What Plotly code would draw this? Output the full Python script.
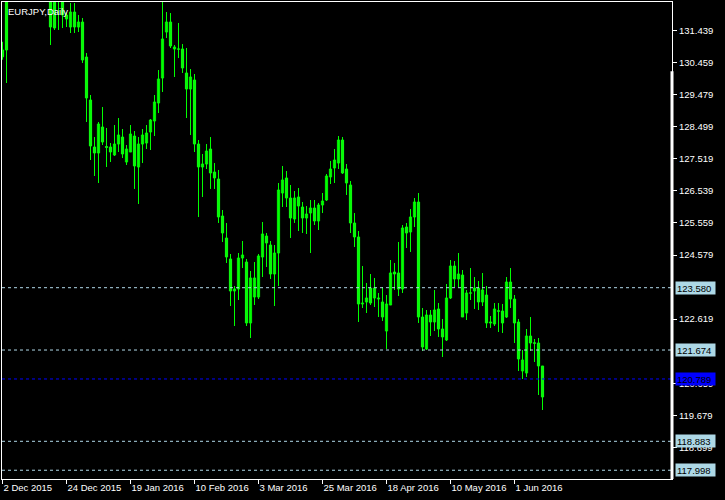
import plotly.graph_objects as go

symbol_label = "EURJPY,Daily"

opens = [130.85, 133.90, 133.85, 133.55, 133.30, 133.95, 134.55, 134.20, 133.65, 133.20,
         132.95, 133.35, 132.65, 132.60, 132.45, 132.40, 131.919, 131.552, 132.011, 131.552,
         131.705, 130.635, 129.320, 127.883, 127.699, 128.494, 127.895, 127.883, 127.638, 127.974,
         128.188, 127.424, 127.730, 128.219, 127.271, 127.974, 128.005, 128.341, 128.678, 129.228,
         129.993, 131.399, 131.705, 130.880, 130.870, 130.880, 130.146, 129.656, 129.932, 127.974,
         127.271, 127.363, 127.821, 127.118, 126.904, 125.772, 125.100, 124.458, 123.479, 123.540,
         124.488, 124.366, 122.501, 123.296, 123.296, 124.519, 125.161, 124.886, 123.999, 124.641,
         126.476, 126.935, 126.323, 125.681, 126.354, 126.048, 125.711, 125.864, 126.017, 125.620,
         126.109, 126.262, 126.966, 127.241, 127.393, 128.097, 127.210, 126.721, 125.559, 125.131,
         123.082, 123.143, 123.571, 123.265, 123.234, 123.143, 122.256, 123.051, 124.060, 124.030,
         123.540, 125.436, 125.283, 125.742, 126.201, 122.684, 121.706, 122.745, 122.531, 122.929,
         122.317, 121.981, 123.265, 124.244, 123.846, 123.968, 122.806, 123.410, 123.479, 123.571,
         123.143, 123.357, 122.501, 122.470, 122.875, 122.867, 122.684, 123.754, 123.234, 122.531,
         121.033, 120.972, 122.103, 121.895, 121.889, 121.186]
highs = [131.10, 134.00, 134.25, 133.95, 134.10, 134.85, 134.95, 134.55, 133.90, 133.50,
         133.60, 133.55, 132.90, 132.80, 132.70, 132.50, 132.011, 132.286, 132.286, 131.919,
         131.828, 130.757, 129.473, 128.188, 128.647, 129.106, 128.464, 128.005, 128.555, 128.769,
         128.433, 127.944, 128.555, 128.372, 128.188, 128.433, 128.555, 128.739, 129.473, 130.237,
         132.450, 132.011, 131.980, 131.002, 131.675, 131.032, 130.910, 130.268, 130.115, 128.097,
         127.669, 127.974, 128.188, 127.393, 127.180, 125.956, 125.559, 124.611, 123.632, 124.641,
         125.008, 124.458, 124.091, 124.366, 124.611, 125.589, 125.253, 125.008, 124.886, 126.782,
         127.302, 127.149, 126.721, 126.537, 126.629, 126.201, 126.078, 126.262, 126.262, 126.170,
         126.476, 127.057, 127.455, 127.821, 128.219, 128.188, 127.363, 126.843, 125.864, 125.314,
         124.244, 123.724, 123.999, 123.877, 123.418, 123.601, 123.357, 124.427, 124.336, 124.978,
         125.497, 125.559, 125.987, 126.323, 126.476, 122.959, 122.898, 122.898, 123.510, 123.112,
         122.623, 123.693, 124.427, 124.396, 124.641, 124.121, 123.510, 124.182, 123.907, 123.785,
         124.030, 123.632, 122.715, 123.112, 123.112, 123.082, 123.907, 124.182, 123.357, 122.623,
         121.675, 122.317, 122.684, 122.011, 122.042, 121.186]
lows = [130.55, 129.840, 133.05, 132.95, 132.80, 133.60, 133.85, 133.40, 132.95, 132.60,
        132.70, 132.45, 131.002, 131.461, 131.461, 131.522, 131.552, 131.369, 131.369, 131.399,
        130.451, 128.647, 127.485, 126.996, 126.782, 127.944, 127.271, 127.424, 127.608, 127.730,
        127.546, 127.332, 127.730, 126.599, 126.140, 127.393, 127.821, 127.791, 128.219, 128.922,
        129.565, 131.216, 130.910, 130.023, 130.604, 130.146, 128.769, 128.250, 127.730, 125.742,
        126.354, 127.210, 126.599, 126.599, 125.559, 124.978, 124.336, 123.020, 122.409, 123.204,
        124.182, 122.409, 122.042, 123.051, 123.234, 123.907, 124.213, 123.846, 123.020, 123.632,
        126.048, 126.048, 125.100, 125.559, 125.314, 125.253, 125.222, 124.641, 125.497, 125.344,
        125.864, 126.231, 126.751, 126.782, 127.210, 127.057, 126.415, 125.253, 124.825, 122.531,
        122.959, 122.806, 123.051, 122.990, 122.684, 122.562, 121.706, 123.051, 123.510, 123.326,
        123.418, 124.794, 124.672, 125.436, 122.501, 121.645, 121.675, 122.103, 122.256, 122.073,
        121.461, 121.950, 123.234, 123.601, 123.601, 122.684, 122.592, 123.204, 122.929, 122.898,
        123.020, 122.348, 122.348, 122.409, 122.225, 122.195, 122.654, 122.959, 121.889, 121.033,
        120.788, 120.850, 121.645, 121.309, 120.299, 119.840]
closes = [130.64, 130.849, 133.55, 133.30, 133.95, 134.55, 134.20, 133.65, 133.20, 132.95,
          133.35, 132.70, 131.552, 131.522, 132.40, 131.919, 131.797, 132.011, 131.552, 131.705,
          130.543, 129.381, 127.913, 127.699, 128.586, 128.035, 127.870, 127.730, 127.974, 128.250,
          127.669, 127.821, 128.280, 127.302, 127.974, 128.250, 128.311, 128.708, 129.259, 129.962,
          131.185, 131.705, 130.971, 130.941, 130.885, 130.299, 129.656, 130.023, 127.974, 127.271,
          127.363, 127.760, 127.088, 126.935, 125.742, 125.253, 124.519, 123.479, 123.540, 124.488,
          124.580, 122.501, 123.877, 123.877, 124.550, 125.222, 124.947, 123.999, 124.641, 126.568,
          126.874, 126.323, 125.711, 126.323, 126.078, 125.711, 125.834, 126.017, 125.620, 126.109,
          126.231, 126.996, 127.210, 127.485, 128.097, 127.088, 126.782, 125.559, 125.131, 123.082,
          123.112, 123.265, 123.112, 123.571, 123.265, 122.684, 123.082, 124.030, 123.999, 123.540,
          125.406, 125.253, 125.742, 126.201, 122.684, 121.767, 122.745, 122.531, 122.898, 122.317,
          122.073, 123.265, 124.244, 123.846, 123.999, 122.684, 123.418, 123.425, 123.571, 123.143,
          123.510, 122.501, 122.531, 122.929, 122.860, 122.501, 123.754, 123.234, 122.501, 121.400,
          121.370, 122.103, 121.889, 121.880, 121.186, 120.238]

date_labels = ["2 Dec 2015", "24 Dec 2015", "19 Jan 2016", "10 Feb 2016", "3 Mar 2016",
               "25 Mar 2016", "18 Apr 2016", "10 May 2016", "1 Jun 2016"]
price_ticks = [131.439, 130.459, 129.479, 128.499, 127.519, 126.539, 125.559, 124.579,
               122.619, 120.659, 119.679, 118.699]
level_lines = [123.580, 121.674, 118.883, 117.998]
bid_line = 120.789

GREEN = "#00FF00"
FONT = "Liberation Sans, Arial, sans-serif"
FS = 9.5

n = len(opens)
idx = list(range(n))

# wicks
wx, wy = [], []
for i in idx:
    wx += [i, i, None]
    wy += [lows[i], highs[i], None]

body_base = [min(o, c) for o, c in zip(opens, closes)]
body_h = [max(abs(c - o), 0.012) for o, c in zip(opens, closes)]
body_fill = ["#000000" if c > o else "#FFFFFF" for o, c in zip(opens, closes)]

fig = go.Figure()
fig.add_trace(go.Scatter(x=wx, y=wy, mode="lines", line=dict(color=GREEN, width=1),
                         hoverinfo="skip", showlegend=False))
fig.add_trace(go.Bar(x=idx, y=body_h, base=body_base, width=0.55,
                     marker=dict(color=body_fill, line=dict(color=GREEN, width=1)),
                     hoverinfo="skip", showlegend=False))

# level lines
for lv in level_lines:
    fig.add_shape(type="line", xref="paper", x0=0, x1=1, yref="y", y0=lv, y1=lv,
                  line=dict(color="#B0D8E8", width=1, dash="3px,3px"), layer="above")
    fig.add_annotation(xref="paper", x=1, xshift=3, xanchor="left", yref="y", y=lv,
                       text=f"{lv:.3f}", showarrow=False, bgcolor="#ADD8E6",
                       width=37, height=10, align="left", borderpad=1,
                       font=dict(family=FONT, size=FS, color="#000000"))
fig.add_shape(type="line", xref="paper", x0=0, x1=1, yref="y", y0=bid_line, y1=bid_line,
              line=dict(color="#0000FF", width=1, dash="3px,3px"), layer="above")
fig.add_annotation(xref="paper", x=1, xshift=3, xanchor="left", yref="y", y=bid_line,
                   text=f"{bid_line:.3f}", showarrow=False, bgcolor="#0000FF",
                   width=37, height=10, align="left", borderpad=1,
                   font=dict(family=FONT, size=FS, color="#000000"))

# thick part of right border
fig.add_shape(type="line", xref="paper", x0=1, x1=1, yref="paper", y0=0, y1=0.855,
              line=dict(color="#FFFFFF", width=3), layer="above")

fig.add_annotation(xref="paper", yref="paper", x=0, y=1, xshift=4, yshift=-2,
                   xanchor="left", yanchor="top", text=symbol_label, showarrow=False,
                   font=dict(family=FONT, size=FS, color="#FFFFFF"))

tick_pos = list(range(0, n, 16))[:len(date_labels)]

fig.update_layout(
    width=725, height=500,
    margin=dict(l=2, r=53, t=2, b=21),
    paper_bgcolor="#000000", plot_bgcolor="#000000",
    barmode="overlay", showlegend=False, hovermode=False,
    font=dict(family=FONT, size=FS, color="#FFFFFF"),
    xaxis=dict(range=[-0.125, 167.375], showgrid=False, zeroline=False, automargin=False,
               showline=True, mirror=True, linecolor="#FFFFFF", linewidth=1,
               tickmode="array", tickvals=tick_pos, ticktext=date_labels, tickangle=0,
               ticks="outside", ticklen=4, tickcolor="#FFFFFF",
               ticklabelposition="outside right",
               tickfont=dict(family=FONT, size=FS, color="#FFFFFF")),
    yaxis=dict(range=[117.730, 132.317], side="right", showgrid=False, zeroline=False,
               automargin=False,
               showline=True, mirror=True, linecolor="#FFFFFF", linewidth=1,
               tickmode="array", tickvals=price_ticks,
               ticktext=[f"{t:.3f}" for t in price_ticks],
               ticks="outside", ticklen=4, tickcolor="#FFFFFF",
               tickfont=dict(family=FONT, size=FS, color="#FFFFFF")),
)

fig.write_html(
    "out.html",
    config={"displayModeBar": False},
    post_script="document.body.style.margin='0';document.body.style.padding='0';"
                "document.body.style.overflow='hidden';document.body.style.background='#000';",
)
